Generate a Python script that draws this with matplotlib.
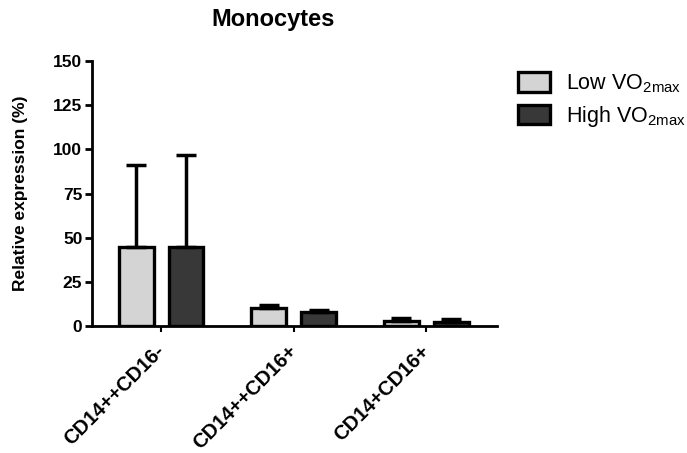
import matplotlib
matplotlib.use("Agg")
import matplotlib.pyplot as plt
import numpy as np

categories = ["CD14++CD16-", "CD14++CD16+", "CD14+CD16+"]
low_vals = [45.0, 10.5, 2.8]
low_err = [46.5, 1.6, 2.0]
high_vals = [45.0, 8.0, 2.3]
high_err = [52.0, 1.4, 2.0]
yticks = [0, 25, 50, 75, 100, 125, 150]
series_names = ["Low VO$_{\\mathregular{2max}}$", "High VO$_{\\mathregular{2max}}$"]

plt.rcParams['font.family'] = ['Liberation Sans', 'DejaVu Sans']
plt.rcParams['mathtext.fontset'] = 'custom'
plt.rcParams['mathtext.rm'] = 'Liberation Sans'

fig = plt.figure(figsize=(6.87, 4.53), dpi=100)
ax = fig.add_axes([0.134, 0.280, 0.589, 0.585])

x = np.arange(len(categories))
w = 0.263
off = 0.188
ekw = dict(elinewidth=2.5, capthick=2.5, ecolor='black')
b1 = ax.bar(x - off, low_vals, w, color='#d4d4d4', edgecolor='black', linewidth=2.4,
            yerr=[np.zeros(3), low_err], capsize=7, error_kw=ekw, zorder=3)
b2 = ax.bar(x + off, high_vals, w, color='#383838', edgecolor='black', linewidth=2.4,
            yerr=[np.zeros(3), high_err], capsize=7, error_kw=ekw, zorder=3)

ax.set_xlim(-0.52, 2.53)
ax.set_ylim(0, 150)
ax.set_yticks(yticks)
ax.set_yticklabels([str(t) for t in yticks], fontsize=12.5, fontweight='bold')
ax.set_xticks(x)
ax.set_xticklabels(categories, fontsize=14.5, fontweight='bold', rotation=45,
                   ha='right', va='center', rotation_mode='anchor')
ax.tick_params(axis='y', width=2, length=5, pad=2)
ax.tick_params(axis='x', width=1.5, length=4, pad=12)
for s in ['top', 'right']:
    ax.spines[s].set_visible(False)
for s in ['left', 'bottom']:
    ax.spines[s].set_linewidth(2)
ax.set_ylabel("Relative expression (%)", fontsize=12.5, fontweight='bold', labelpad=18)

fig.text(0.397, 0.956, "Monocytes", fontsize=17, fontweight='bold', ha='center', va='center')

leg = fig.legend([b1, b2], series_names, loc='upper left', bbox_to_anchor=(0.754, 0.84),
                 frameon=False, fontsize=15.5, handlelength=1.5, handleheight=1.0,
                 handletextpad=0.75, labelspacing=0.4, borderaxespad=0, borderpad=0)

fig.savefig("out.png", dpi=100)
